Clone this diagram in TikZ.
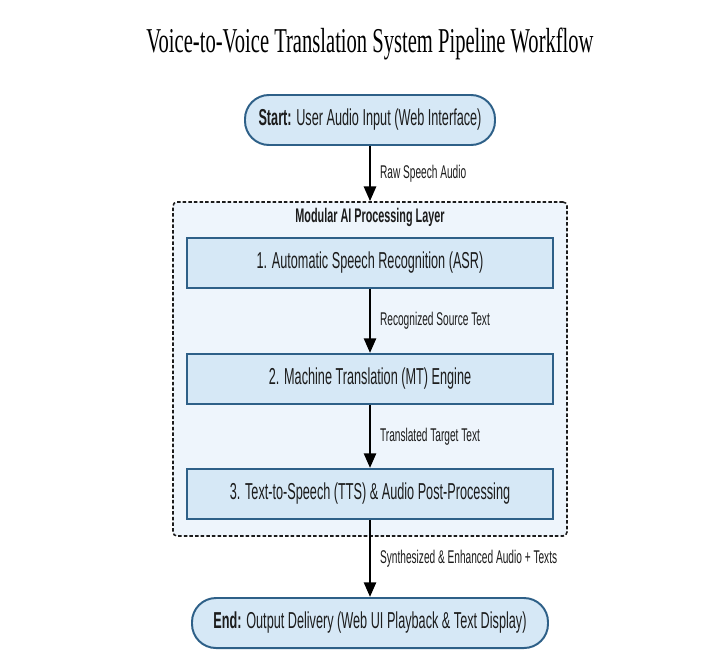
\documentclass[tikz,border=0pt]{standalone}
\usepackage{fontspec}
\usepackage{tikz}
\usetikzlibrary{arrows.meta}

\newfontfamily\boxfont[FakeStretch=0.55]{Liberation Sans}
\newfontfamily\titlefont[FakeStretch=0.59]{Liberation Serif}

\definecolor{boxblue}{HTML}{D6E8F6}
\definecolor{edgeblue}{HTML}{2E6088}
\definecolor{layerblue}{HTML}{EEF5FC}
\definecolor{inkgray}{HTML}{1C1C1C}

\begin{document}
\begin{tikzpicture}[
        terminal/.style={draw=edgeblue, line width=1.4pt, fill=boxblue, rounded corners=0.6cm,
            minimum height=1.25cm, text=inkgray, font=\boxfont\fontsize{16.4}{19}\selectfont},
        stage/.style={draw=edgeblue, line width=1.4pt, fill=boxblue, minimum width=9.15cm,
            minimum height=1.25cm, text=inkgray, font=\boxfont\fontsize{16.4}{19}\selectfont},
        flow/.style={line width=2pt, -{Triangle[length=10.5pt, width=8.5pt]}},
        flowlabel/.style={right, xshift=0.1cm, text=inkgray, font=\boxfont\fontsize{13.1}{15}\selectfont}
    ]
        \fill[white] (0,0) rectangle (17.85,-16.475);

        \node[font=\titlefont\fontsize{24.8}{29}\selectfont] (title) at (9.25,-1.1) {Voice-to-Voice Translation System Pipeline Workflow};

        \node[terminal, minimum width=6.25cm] (start) at (9.25,-3) {\textbf{Start:} User Audio Input (Web Interface)};

        % processing layer
        \node[draw=inkgray, line width=1.1pt, dash pattern=on 2.5pt off 1.5pt, fill=layerblue,
            rounded corners=0.1cm, minimum width=9.85cm, minimum height=8.35cm] (layer) at (9.25,-9.225) {};
        \node[text=inkgray, font=\boxfont\bfseries\fontsize{14}{16}\selectfont] (layertitle) at (9.25,-5.43) {Modular AI Processing Layer};

        \node[stage] (asr) at (9.25,-6.575) {1. Automatic Speech Recognition (ASR)};
        \node[stage] (mt) at (9.25,-9.475) {2. Machine Translation (MT) Engine};
        \node[stage] (tts) at (9.25,-12.35) {3. Text-to-Speech (TTS) \& Audio Post-Processing};

        \node[terminal, minimum width=8.9cm] (finish) at (9.25,-15.575) {\textbf{End:} Output Delivery (Web UI Playback \& Text Display)};

        \draw[flow] (start.south) -- (layer.north) node[midway, flowlabel] {Raw Speech Audio};
        \draw[flow] (asr) -- (mt) node[midway, flowlabel] {Recognized Source Text};
        \draw[flow] (mt) -- (tts) node[midway, flowlabel] {Translated Target Text};
        \draw[flow] (tts) -- (finish) node[midway, flowlabel] {Synthesized \& Enhanced Audio + Texts};
    \end{tikzpicture}
\end{document}
